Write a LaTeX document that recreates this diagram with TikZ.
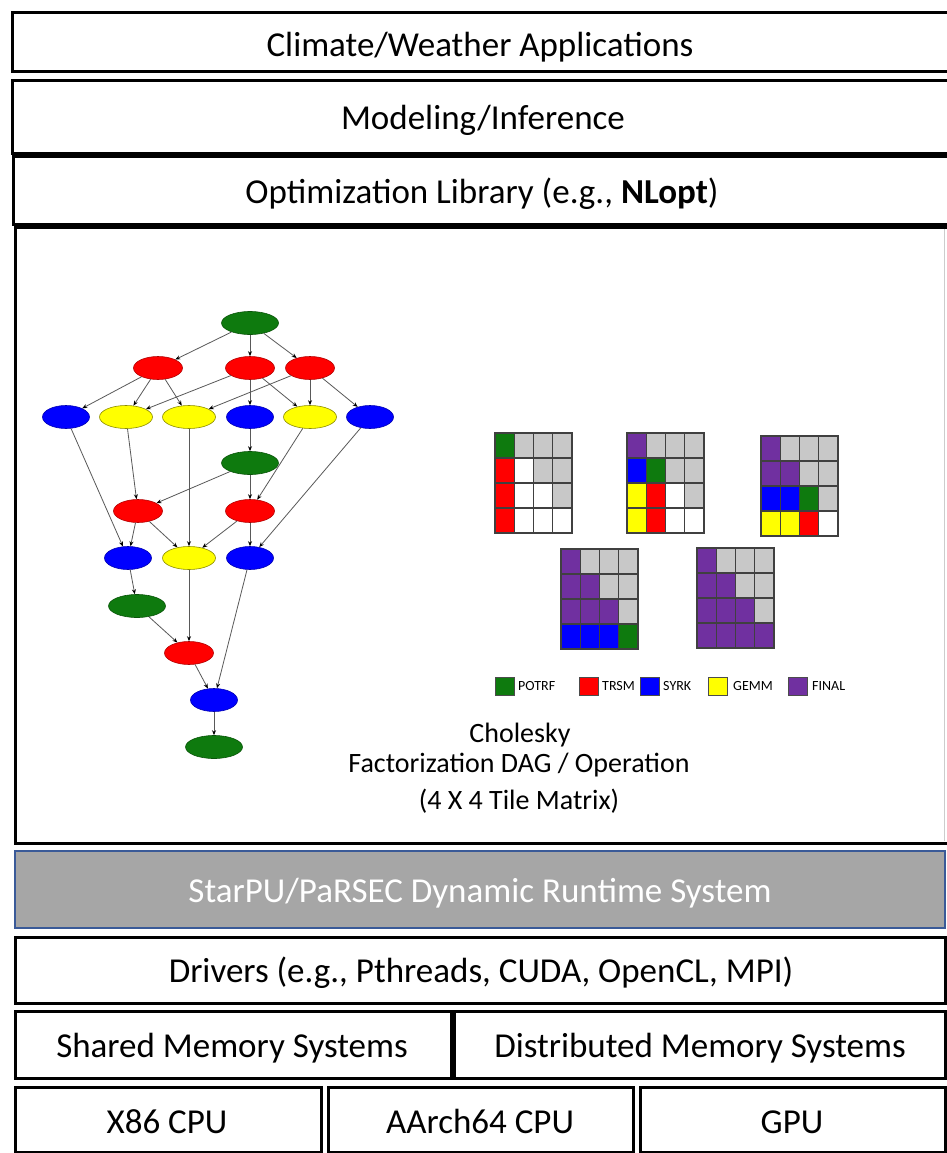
\documentclass[tikz,border=0pt]{standalone}
\usepackage{fontspec}
\setmainfont{Carlito}
\usetikzlibrary{shapes.geometric,arrows.meta}
\definecolor{cgreen}{HTML}{0E7A0E}
\definecolor{cred}{HTML}{FF0000}
\definecolor{cblue}{HTML}{0000FF}
\definecolor{cyellow}{HTML}{FFFF00}
\definecolor{cpurple}{HTML}{7030A0}
\definecolor{cgray}{HTML}{C8C8C8}
\definecolor{rtgray}{HTML}{A6A6A6}
\definecolor{rtblue}{HTML}{3A5A98}
\newcommand\tilemat[3]{%
  \foreach \c [count=\k from 0] in {#3} {%
    \pgfmathtruncatemacro\tcol{mod(\k,4)}%
    \pgfmathtruncatemacro\trow{div(\k,4)}%
    \filldraw[fill=\c,draw=black!75,line width=1.3pt] ({#1+\tcol*19.25},{#2+\trow*25}) rectangle ++(19.25,25);
  }%
}
\begin{document}
\begin{tikzpicture}[x=1pt,y=-1pt,
  layer/.style={draw=black,line width=3pt,fill=white},
  lbl/.style={font=\fontsize{35}{40}\selectfont,anchor=base,inner sep=0pt},
  captxt/.style={font=\fontsize{28}{32}\selectfont,anchor=base,inner sep=0pt},
  leg/.style={font=\fontsize{14}{16}\selectfont,anchor=west,inner sep=0pt},
  legsq/.style={draw=black!70,line width=0.8pt},
  task/.style={ellipse,inner sep=0pt,minimum height=23pt,line width=0.6pt},
  potrf/.style={task,fill=cgreen,draw=cgreen!70!black,minimum width=57pt},
  trsm/.style={task,fill=cred,draw=cred!70!black,minimum width=49pt},
  syrk/.style={task,fill=cblue,draw=cblue!70!black,minimum width=47pt},
  gemm/.style={task,fill=cyellow,draw=cyellow!55!black,minimum width=53pt},
  dep/.style={draw=gray!70!black,line width=0.8pt,-{Stealth[length=5pt,width=4pt,black]}}
]
\useasboundingbox[fill=white] (0,0) rectangle (947,1153);

% upper layers
\draw[layer] (12,13) rectangle (958,72);
\draw[layer] (12,81) rectangle (958,153);
\draw[layer] (13,156) rectangle (958,224);
\draw[layer] (15,227) rectangle (958,843);
\draw[gray!40,line width=1pt] (944,229) -- (944,841);

\node[lbl] (app) at (480,57) {Climate/Weather Applications};
\node[lbl] (model) at (483,129) {Modeling/Inference};
\node[lbl] (opt) at (482,203) {Optimization Library (e.g., \textbf{NLopt})};

% runtime and lower layers
\draw[fill=rtgray,draw=rtblue,line width=2pt] (15,851) rectangle (945,928);
\node[lbl,text=white] (rt) at (480,902) {StarPU/PaRSEC Dynamic Runtime System};
\draw[layer] (15,937) rectangle (945,1003);
\node[lbl] (drv) at (481,982) {Drivers (e.g., Pthreads, CUDA, OpenCL, MPI)};
\draw[layer] (15,1011) rectangle (451,1078);
\draw[layer] (454,1011) rectangle (945,1078);
\node[lbl] (shm) at (232,1057) {Shared Memory Systems};
\node[lbl] (dism) at (700,1057) {Distributed Memory Systems};
\draw[layer] (15,1087) rectangle (321,1152);
\draw[layer] (328,1087) rectangle (633,1152);
\draw[layer] (640,1087) rectangle (945,1152);
\node[lbl] (x86) at (167,1133) {X86 CPU};
\node[lbl] (arm) at (480,1133) {AArch64 CPU};
\node[lbl] (gpu) at (792,1133) {GPU};

% DAG
\node[potrf] (g0) at (250,323) {};
\node[trsm] (r1a) at (158,368) {};
\node[trsm] (r1b) at (250,368) {};
\node[trsm] (r1c) at (310,368) {};
\node[syrk] (b2a) at (66,417) {};
\node[gemm] (y2a) at (126,417) {};
\node[gemm] (y2b) at (189,417) {};
\node[syrk] (b2b) at (250,417) {};
\node[gemm] (y2c) at (310,417) {};
\node[syrk] (b2c) at (370,417) {};
\node[potrf] (g3) at (250,463) {};
\node[trsm] (r4a) at (138,511) {};
\node[trsm] (r4b) at (250,511) {};
\node[syrk] (b5a) at (128,558) {};
\node[gemm] (y5) at (189,558) {};
\node[syrk] (b5b) at (250,558) {};
\node[potrf] (g6) at (137,606) {};
\node[trsm] (r7) at (189,653) {};
\node[syrk] (b8) at (214,700) {};
\node[potrf] (g9) at (214,747) {};

\draw[dep] (g0) -- (r1a);
\draw[dep] (g0) -- (r1b);
\draw[dep] (g0) -- (r1c);
\draw[dep] (r1a) -- (b2a);
\draw[dep] (r1a) -- (y2a);
\draw[dep] (r1a) -- (y2b);
\draw[dep] (r1b) -- (y2a);
\draw[dep] (r1b) -- (b2b);
\draw[dep] (r1b) -- (y2c);
\draw[dep] (r1c) -- (y2b);
\draw[dep] (r1c) -- (y2c);
\draw[dep] (r1c) -- (b2c);
\draw[dep] (b2a) -- (b5a);
\draw[dep] (y2a) -- (r4a);
\draw[dep] (y2b) -- (y5);
\draw[dep] (b2b) -- (g3);
\draw[dep] (y2c) -- (r4b);
\draw[dep] (b2c) -- (b5b);
\draw[dep] (g3) -- (r4a);
\draw[dep] (g3) -- (r4b);
\draw[dep] (r4a) -- (b5a);
\draw[dep] (r4a) -- (y5);
\draw[dep] (r4b) -- (y5);
\draw[dep] (r4b) -- (b5b);
\draw[dep] (b5a) -- (g6);
\draw[dep] (g6) -- (r7);
\draw[dep] (y5) -- (r7);
\draw[dep] (b5b) -- (b8);
\draw[dep] (r7) -- (b8);
\draw[dep] (b8) -- (g9);

% tile matrices
\tilemat{495}{433}{cgreen,cgray,cgray,cgray, cred,white,cgray,cgray, cred,white,white,cgray, cred,white,white,white}
\tilemat{627}{433}{cpurple,cgray,cgray,cgray, cblue,cgreen,cgray,cgray, cyellow,cred,white,cgray, cyellow,cred,white,white}
\tilemat{761}{436}{cpurple,cgray,cgray,cgray, cpurple,cpurple,cgray,cgray, cblue,cblue,cgreen,cgray, cyellow,cyellow,cred,white}
\tilemat{561}{549}{cpurple,cgray,cgray,cgray, cpurple,cpurple,cgray,cgray, cpurple,cpurple,cpurple,cgray, cblue,cblue,cblue,cgreen}
\tilemat{697}{548}{cpurple,cgray,cgray,cgray, cpurple,cpurple,cgray,cgray, cpurple,cpurple,cpurple,cgray, cpurple,cpurple,cpurple,cpurple}

% legend
\draw[legsq,fill=cgreen] (495,677) rectangle (514,695);
\node[leg] (lpotrf) at (518,686) {POTRF};
\draw[legsq,fill=cred] (579,677) rectangle (598,695);
\node[leg] (ltrsm) at (602,686) {TRSM};
\draw[legsq,fill=cblue] (640,677) rectangle (659,695);
\node[leg] (lsyrk) at (663,686) {SYRK};
\draw[legsq,fill=cyellow] (708,677) rectangle (727,695);
\node[leg] (lgemm) at (733,686) {GEMM};
\draw[legsq,fill=cpurple] (788,677) rectangle (807,695);
\node[leg] (lfinal) at (812,686) {FINAL};

% caption
\node[captxt] (c1) at (520,742) {Cholesky};
\node[captxt] (c2) at (519,772) {Factorization DAG / Operation};
\node[captxt] (c3) at (519,809) {(4 X 4 Tile Matrix)};
\end{tikzpicture}
\end{document}
